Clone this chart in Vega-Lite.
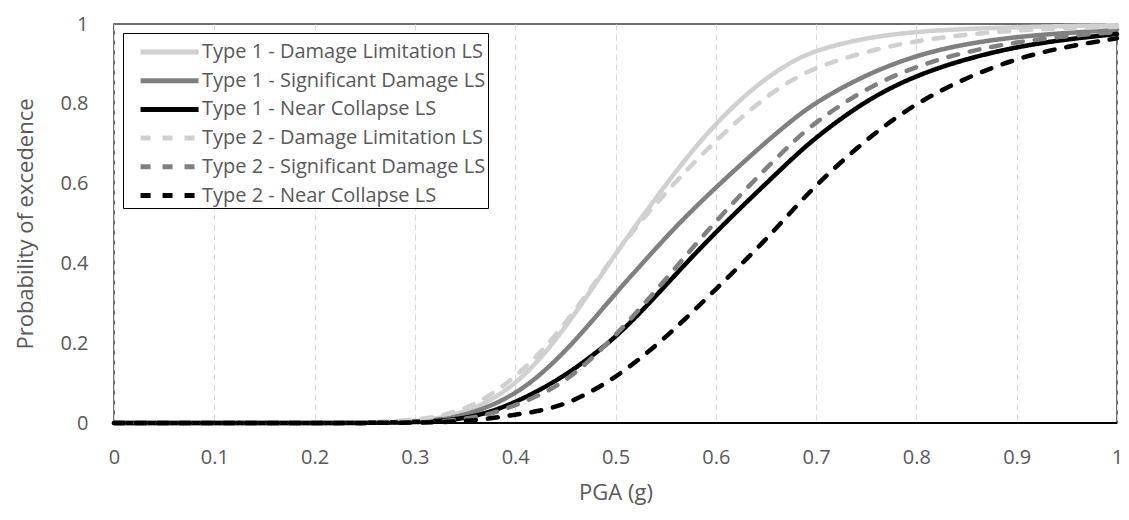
{
  "$schema": "https://vega.github.io/schema/vega-lite/v6.json",
  "width": 1003,
  "height": 399,
  "autosize": {"type": "none"},
  "padding": {"left": 114, "top": 24, "right": 12, "bottom": 97},
  "background": "white",
  "config": {
    "font": "Open Sans",
    "view": {"stroke": "#404040", "strokeWidth": 1.5},
    "axis": {
      "labelColor": "#595959",
      "titleColor": "#595959",
      "labelFontSize": 20,
      "titleFontSize": 22,
      "titleFontWeight": "normal",
      "ticks": false,
      "gridColor": "#d9d9d9",
      "gridDash": [6, 4],
      "gridWidth": 1,
      "domain": false
    }
  },
  "data": {
    "values": [
      {"x": 0, "Type 1 - Damage Limitation LS": 0, "Type 1 - Significant Damage LS": 0, "Type 1 - Near Collapse LS": 0, "Type 2 - Damage Limitation LS": 0, "Type 2 - Significant Damage LS": 0, "Type 2 - Near Collapse LS": 0},
      {"x": 0.05, "Type 1 - Damage Limitation LS": 0, "Type 1 - Significant Damage LS": 0, "Type 1 - Near Collapse LS": 0, "Type 2 - Damage Limitation LS": 0, "Type 2 - Significant Damage LS": 0, "Type 2 - Near Collapse LS": 0},
      {"x": 0.1, "Type 1 - Damage Limitation LS": 0, "Type 1 - Significant Damage LS": 0, "Type 1 - Near Collapse LS": 0, "Type 2 - Damage Limitation LS": 0, "Type 2 - Significant Damage LS": 0, "Type 2 - Near Collapse LS": 0},
      {"x": 0.15, "Type 1 - Damage Limitation LS": 0, "Type 1 - Significant Damage LS": 0, "Type 1 - Near Collapse LS": 0, "Type 2 - Damage Limitation LS": 0, "Type 2 - Significant Damage LS": 0, "Type 2 - Near Collapse LS": 0},
      {"x": 0.2, "Type 1 - Damage Limitation LS": 0, "Type 1 - Significant Damage LS": 0, "Type 1 - Near Collapse LS": 0, "Type 2 - Damage Limitation LS": 0, "Type 2 - Significant Damage LS": 0, "Type 2 - Near Collapse LS": 0},
      {"x": 0.25, "Type 1 - Damage Limitation LS": 0.0005, "Type 1 - Significant Damage LS": 0.0005, "Type 1 - Near Collapse LS": 0, "Type 2 - Damage Limitation LS": 0.001, "Type 2 - Significant Damage LS": 0, "Type 2 - Near Collapse LS": 0},
      {"x": 0.3, "Type 1 - Damage Limitation LS": 0.004, "Type 1 - Significant Damage LS": 0.003, "Type 1 - Near Collapse LS": 0.002, "Type 2 - Damage Limitation LS": 0.007, "Type 2 - Significant Damage LS": 0.001, "Type 2 - Near Collapse LS": 0.001},
      {"x": 0.325, "Type 1 - Damage Limitation LS": 0.012, "Type 1 - Significant Damage LS": 0.008, "Type 1 - Near Collapse LS": 0.005, "Type 2 - Damage Limitation LS": 0.017, "Type 2 - Significant Damage LS": 0.004, "Type 2 - Near Collapse LS": 0.002},
      {"x": 0.35, "Type 1 - Damage Limitation LS": 0.028, "Type 1 - Significant Damage LS": 0.02, "Type 1 - Near Collapse LS": 0.012, "Type 2 - Damage Limitation LS": 0.035, "Type 2 - Significant Damage LS": 0.01, "Type 2 - Near Collapse LS": 0.005},
      {"x": 0.375, "Type 1 - Damage Limitation LS": 0.055, "Type 1 - Significant Damage LS": 0.042, "Type 1 - Near Collapse LS": 0.027, "Type 2 - Damage Limitation LS": 0.068, "Type 2 - Significant Damage LS": 0.022, "Type 2 - Near Collapse LS": 0.011},
      {"x": 0.4, "Type 1 - Damage Limitation LS": 0.098, "Type 1 - Significant Damage LS": 0.073, "Type 1 - Near Collapse LS": 0.052, "Type 2 - Damage Limitation LS": 0.116, "Type 2 - Significant Damage LS": 0.044, "Type 2 - Near Collapse LS": 0.021},
      {"x": 0.425, "Type 1 - Damage Limitation LS": 0.16, "Type 1 - Significant Damage LS": 0.12, "Type 1 - Near Collapse LS": 0.083, "Type 2 - Damage Limitation LS": 0.175, "Type 2 - Significant Damage LS": 0.07, "Type 2 - Near Collapse LS": 0.03},
      {"x": 0.45, "Type 1 - Damage Limitation LS": 0.24, "Type 1 - Significant Damage LS": 0.18, "Type 1 - Near Collapse LS": 0.12, "Type 2 - Damage Limitation LS": 0.25, "Type 2 - Significant Damage LS": 0.105, "Type 2 - Near Collapse LS": 0.047},
      {"x": 0.475, "Type 1 - Damage Limitation LS": 0.33, "Type 1 - Significant Damage LS": 0.25, "Type 1 - Near Collapse LS": 0.165, "Type 2 - Damage Limitation LS": 0.335, "Type 2 - Significant Damage LS": 0.158, "Type 2 - Near Collapse LS": 0.077},
      {"x": 0.5, "Type 1 - Damage Limitation LS": 0.424, "Type 1 - Significant Damage LS": 0.325, "Type 1 - Near Collapse LS": 0.215, "Type 2 - Damage Limitation LS": 0.425, "Type 2 - Significant Damage LS": 0.22, "Type 2 - Near Collapse LS": 0.115},
      {"x": 0.525, "Type 1 - Damage Limitation LS": 0.512, "Type 1 - Significant Damage LS": 0.395, "Type 1 - Near Collapse LS": 0.277, "Type 2 - Damage Limitation LS": 0.505, "Type 2 - Significant Damage LS": 0.288, "Type 2 - Near Collapse LS": 0.162},
      {"x": 0.55, "Type 1 - Damage Limitation LS": 0.597, "Type 1 - Significant Damage LS": 0.465, "Type 1 - Near Collapse LS": 0.345, "Type 2 - Damage Limitation LS": 0.577, "Type 2 - Significant Damage LS": 0.36, "Type 2 - Near Collapse LS": 0.215},
      {"x": 0.575, "Type 1 - Damage Limitation LS": 0.678, "Type 1 - Significant Damage LS": 0.53, "Type 1 - Near Collapse LS": 0.413, "Type 2 - Damage Limitation LS": 0.645, "Type 2 - Significant Damage LS": 0.434, "Type 2 - Near Collapse LS": 0.274},
      {"x": 0.6, "Type 1 - Damage Limitation LS": 0.75, "Type 1 - Significant Damage LS": 0.59, "Type 1 - Near Collapse LS": 0.478, "Type 2 - Damage Limitation LS": 0.707, "Type 2 - Significant Damage LS": 0.505, "Type 2 - Near Collapse LS": 0.335},
      {"x": 0.625, "Type 1 - Damage Limitation LS": 0.812, "Type 1 - Significant Damage LS": 0.648, "Type 1 - Near Collapse LS": 0.54, "Type 2 - Damage Limitation LS": 0.765, "Type 2 - Significant Damage LS": 0.573, "Type 2 - Near Collapse LS": 0.397},
      {"x": 0.65, "Type 1 - Damage Limitation LS": 0.864, "Type 1 - Significant Damage LS": 0.704, "Type 1 - Near Collapse LS": 0.6, "Type 2 - Damage Limitation LS": 0.817, "Type 2 - Significant Damage LS": 0.638, "Type 2 - Near Collapse LS": 0.46},
      {"x": 0.675, "Type 1 - Damage Limitation LS": 0.905, "Type 1 - Significant Damage LS": 0.757, "Type 1 - Near Collapse LS": 0.66, "Type 2 - Damage Limitation LS": 0.859, "Type 2 - Significant Damage LS": 0.7, "Type 2 - Near Collapse LS": 0.529},
      {"x": 0.7, "Type 1 - Damage Limitation LS": 0.935, "Type 1 - Significant Damage LS": 0.805, "Type 1 - Near Collapse LS": 0.717, "Type 2 - Damage Limitation LS": 0.892, "Type 2 - Significant Damage LS": 0.756, "Type 2 - Near Collapse LS": 0.597},
      {"x": 0.75, "Type 1 - Damage Limitation LS": 0.966, "Type 1 - Significant Damage LS": 0.874, "Type 1 - Near Collapse LS": 0.81, "Type 2 - Damage Limitation LS": 0.932, "Type 2 - Significant Damage LS": 0.84, "Type 2 - Near Collapse LS": 0.712},
      {"x": 0.8, "Type 1 - Damage Limitation LS": 0.981, "Type 1 - Significant Damage LS": 0.922, "Type 1 - Near Collapse LS": 0.872, "Type 2 - Damage Limitation LS": 0.958, "Type 2 - Significant Damage LS": 0.895, "Type 2 - Near Collapse LS": 0.803},
      {"x": 0.85, "Type 1 - Damage Limitation LS": 0.988, "Type 1 - Significant Damage LS": 0.951, "Type 1 - Near Collapse LS": 0.913, "Type 2 - Damage Limitation LS": 0.974, "Type 2 - Significant Damage LS": 0.931, "Type 2 - Near Collapse LS": 0.866},
      {"x": 0.9, "Type 1 - Damage Limitation LS": 0.992, "Type 1 - Significant Damage LS": 0.968, "Type 1 - Near Collapse LS": 0.943, "Type 2 - Damage Limitation LS": 0.984, "Type 2 - Significant Damage LS": 0.955, "Type 2 - Near Collapse LS": 0.914},
      {"x": 0.95, "Type 1 - Damage Limitation LS": 0.995, "Type 1 - Significant Damage LS": 0.978, "Type 1 - Near Collapse LS": 0.962, "Type 2 - Damage Limitation LS": 0.99, "Type 2 - Significant Damage LS": 0.97, "Type 2 - Near Collapse LS": 0.944},
      {"x": 1, "Type 1 - Damage Limitation LS": 0.997, "Type 1 - Significant Damage LS": 0.985, "Type 1 - Near Collapse LS": 0.975, "Type 2 - Damage Limitation LS": 0.993, "Type 2 - Significant Damage LS": 0.98, "Type 2 - Near Collapse LS": 0.964}
    ]
  },
  "transform": [
    {"fold": ["Type 1 - Damage Limitation LS", "Type 1 - Significant Damage LS", "Type 1 - Near Collapse LS", "Type 2 - Damage Limitation LS", "Type 2 - Significant Damage LS", "Type 2 - Near Collapse LS"], "as": ["series", "p"]}
  ],
  "layer": [
    {
      "mark": {"type": "rule", "color": "#000000", "strokeWidth": 2},
      "encoding": {"y": {"datum": 0}}
    },
    {
      "mark": {"type": "line", "strokeWidth": 4.5, "strokeCap": "round", "strokeJoin": "round", "interpolate": "basis"},
      "encoding": {
        "x": {
          "field": "x", "type": "quantitative",
          "scale": {"domain": [0, 1], "nice": false},
          "axis": {"title": "PGA (g)", "values": [0, 0.1, 0.2, 0.3, 0.4, 0.5, 0.6, 0.7, 0.8, 0.9, 1], "format": "~g", "labelPadding": 24, "titlePadding": 15, "labelFlush": false}
        },
        "y": {
          "field": "p", "type": "quantitative",
          "scale": {"domain": [0, 1], "nice": false},
          "axis": {"title": "Probability of excedence", "values": [0, 0.2, 0.4, 0.6, 0.8, 1], "format": "~g", "labelPadding": 26, "titlePadding": 22, "labelFlush": false}
        },
        "color": {
          "field": "series", "type": "nominal",
          "scale": {"domain": ["Type 1 - Damage Limitation LS", "Type 1 - Significant Damage LS", "Type 1 - Near Collapse LS", "Type 2 - Damage Limitation LS", "Type 2 - Significant Damage LS", "Type 2 - Near Collapse LS"],
                    "range": ["#d0d0d0", "#808080", "#000000", "#d0d0d0", "#808080", "#000000"]},
          "legend": {
            "title": null, "orient": "none", "legendX": 9, "legendY": 9,
            "strokeColor": "#000000", "fillColor": "white", "padding": 2,
            "symbolType": "M-0.1,0H3.9", "symbolSize": 841, "symbolStrokeWidth": 5,
            "labelFontSize": 20, "labelColor": "#595959", "labelOffset": 43, "labelLimit": 500,
            "rowPadding": 1.7
          }
        },
        "strokeDash": {
          "field": "series", "type": "nominal",
          "scale": {"domain": ["Type 1 - Damage Limitation LS", "Type 1 - Significant Damage LS", "Type 1 - Near Collapse LS", "Type 2 - Damage Limitation LS", "Type 2 - Significant Damage LS", "Type 2 - Near Collapse LS"],
                    "range": [[1, 0], [1, 0], [1, 0], [10, 12], [10, 12], [10, 12]]},
          "legend": {
            "title": null, "orient": "none", "legendX": 9, "legendY": 9,
            "strokeColor": "#000000", "fillColor": "white", "padding": 2,
            "symbolType": "M-0.1,0H3.9", "symbolSize": 841, "symbolStrokeWidth": 5,
            "labelFontSize": 20, "labelColor": "#595959", "labelOffset": 43, "labelLimit": 500,
            "rowPadding": 1.7
          }
        }
      }
    }
  ]
}
